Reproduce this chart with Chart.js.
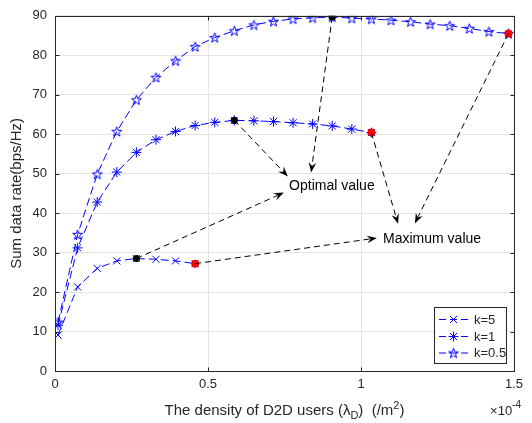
<!DOCTYPE html>
<html><head><meta charset="utf-8">
<script src="https://cdn.jsdelivr.net/npm/chart.js@4.4.0/dist/chart.umd.min.js"></script>
<style>html,body{margin:0;padding:0;background:#fff}#wrap{width:532px;height:423px;position:relative}</style>
</head><body><div id="wrap"><canvas id="c"></canvas></div>
<script>
// ---- data (density in units of 1e-4 /m^2) ----
const density = [0.010, 0.074, 0.138, 0.202, 0.266, 0.330, 0.394, 0.458, 0.522, 0.586, 0.650, 0.714,
                 0.778, 0.842, 0.906, 0.970, 1.034, 1.098, 1.162, 1.226, 1.290, 1.354, 1.418, 1.482];
const rateK5  = [9.1, 21.3, 26.0, 27.9, 28.5, 28.3, 27.9, 27.2];
const rateK1  = [11.6, 31.2, 42.8, 50.4, 55.4, 58.6, 60.7, 62.2, 63.0, 63.5, 63.4, 63.2, 62.9, 62.6, 62.1, 61.3, 60.4];
const rateK05 = [12.4, 34.6, 49.9, 60.7, 68.7, 74.4, 78.6, 82.2, 84.5, 86.2, 87.7, 88.6, 89.2, 89.5, 89.7, 89.4,
                 89.2, 88.9, 88.5, 87.9, 87.5, 86.8, 86.0, 85.5];
const seriesLabels = ['k=5', 'k=1', 'k=0.5'];
const optimalIndex = [4, 9, 14];
const xTicks = [0, 0.5, 1, 1.5];
const xTickLabels = ['0', '0.5', '1', '1.5'];
const yTicks = [0, 10, 20, 30, 40, 50, 60, 70, 80, 90];
const arrowStarts = [[0.586, 63.5], [0.906, 89.7], [0.266, 28.5], [0.458, 27.2], [1.034, 60.4], [1.482, 85.5]];
const arrowEnds   = [[0.761, 49.3], [0.837, 50.3], [0.748, 45.2], [1.052, 33.7], [1.121, 37.3], [1.176, 37.4]];
const noteTexts = ['Optimal value', 'Maximum value'];
const notePos = [[0.765, 46.8], [1.072, 33.4]];

const FONT = "'Liberation Sans', Arial, Helvetica, sans-serif";
const BLUE = '#0000ff';
const AX = '#262626';

function makePentagram(r, color) {
  const size = Math.ceil(r * 2 + 4);
  const c = document.createElement('canvas'); c.width = size; c.height = size;
  const g = c.getContext('2d');
  g.strokeStyle = color; g.lineWidth = 1;
  g.beginPath();
  const cx = size / 2, cy = size / 2 + 0.5, ri = r * 0.4;
  for (let k = 0; k < 10; k++) {
    const ang = -Math.PI / 2 + k * Math.PI / 5;
    const rr = k % 2 === 0 ? r : ri;
    const px = cx + rr * Math.cos(ang), py = cy + rr * Math.sin(ang);
    k ? g.lineTo(px, py) : g.moveTo(px, py);
  }
  g.closePath(); g.stroke();
  return c;
}
const pentagram = makePentagram(5.2, BLUE);

const series = [rateK5, rateK1, rateK05];
const markerStyles = ['crossRot', 'star', pentagram];
const pts = (arr) => arr.map((v, i) => ({ x: density[i], y: v }));

const datasets = series.map((arr, s) => ({
  label: seriesLabels[s],
  data: pts(arr),
  borderColor: BLUE,
  backgroundColor: BLUE,
  borderWidth: 1,
  borderDash: [8, 4],
  pointStyle: markerStyles[s],
  pointRadius: 5,
  pointBorderWidth: 1,
  pointBorderColor: BLUE,
  pointHoverRadius: 5,
  tension: 0,
  order: 2
}));
datasets.push({
  label: 'optimal',
  data: series.map((arr, s) => ({ x: density[optimalIndex[s]], y: arr[optimalIndex[s]] })),
  showLine: false, pointStyle: 'circle', pointRadius: 3.6, backgroundColor: '#000', borderColor: '#000', borderWidth: 0, order: 1
});
datasets.push({
  label: 'maximum',
  data: series.map((arr) => ({ x: density[arr.length - 1], y: arr[arr.length - 1] })),
  showLine: false, pointStyle: 'circle', pointRadius: 4, backgroundColor: '#ff0000', borderColor: '#ff0000', borderWidth: 0, order: 1
});

function arrowHead(ctx, x0, y0, x1, y1) {
  const ang = Math.atan2(y1 - y0, x1 - x0);
  const L = 10, W = 3.8, N = 3.5;
  ctx.save();
  ctx.translate(x1, y1); ctx.rotate(ang);
  ctx.beginPath();
  ctx.moveTo(0, 0);
  ctx.lineTo(-L, -W);
  ctx.lineTo(-L + N, 0);
  ctx.lineTo(-L, W);
  ctx.closePath();
  ctx.fillStyle = '#000'; ctx.fill();
  ctx.restore();
}

const decorPlugin = {
  id: 'decor',
  afterDatasetsDraw(chart) {
    const { ctx, chartArea: a, scales: { x, y } } = chart;
    ctx.save();
    // arrows
    for (let i = 0; i < arrowStarts.length; i++) {
      const x0 = x.getPixelForValue(arrowStarts[i][0]), y0 = y.getPixelForValue(arrowStarts[i][1]);
      const x1 = x.getPixelForValue(arrowEnds[i][0]), y1 = y.getPixelForValue(arrowEnds[i][1]);
      const d = Math.hypot(x1 - x0, y1 - y0);
      const ex = x1 - (x1 - x0) / d * 7, ey = y1 - (y1 - y0) / d * 7;
      ctx.beginPath();
      ctx.setLineDash([6, 4]);
      ctx.strokeStyle = '#000'; ctx.lineWidth = 1;
      ctx.moveTo(x0, y0); ctx.lineTo(ex, ey); ctx.stroke();
      ctx.setLineDash([]);
      arrowHead(ctx, x0, y0, x1, y1);
    }
    // notes
    ctx.font = '14px ' + FONT; ctx.fillStyle = '#000';
    ctx.textAlign = 'left'; ctx.textBaseline = 'middle';
    noteTexts.forEach((t, i) => ctx.fillText(t, x.getPixelForValue(notePos[i][0]), y.getPixelForValue(notePos[i][1])));
    ctx.restore();
  },
  afterDraw(chart) {
    const { ctx, chartArea: a, scales: { x, y } } = chart;
    ctx.save();
    // frame
    ctx.strokeStyle = AX; ctx.lineWidth = 1; ctx.setLineDash([]);
    const L = Math.round(a.left) + 0.5, R = Math.round(a.right) + 0.5, T = Math.round(a.top) + 0.5, B = Math.round(a.bottom) + 0.5;
    ctx.strokeRect(L, T, R - L, B - T);
    ctx.beginPath();
    xTicks.forEach(v => { const p = Math.round(x.getPixelForValue(v)) + 0.5; ctx.moveTo(p, B); ctx.lineTo(p, B - 4); ctx.moveTo(p, T); ctx.lineTo(p, T + 4); });
    yTicks.forEach(v => { const p = Math.round(y.getPixelForValue(v)) + 0.5; ctx.moveTo(L, p); ctx.lineTo(L + 4, p); ctx.moveTo(R, p); ctx.lineTo(R - 4, p); });
    ctx.stroke();
    // legend
    const bx = 434.5, by = 307.5, bw = 72, bh = 56;
    ctx.fillStyle = '#fff'; ctx.fillRect(bx, by, bw, bh);
    ctx.strokeStyle = AX; ctx.strokeRect(bx, by, bw, bh);
    const rows = [319.5, 336.5, 353];
    for (let s = 0; s < 3; s++) {
      const yy = rows[s];
      ctx.strokeStyle = BLUE; ctx.lineWidth = 1; ctx.setLineDash([7, 4]);
      ctx.beginPath(); ctx.moveTo(439, yy); ctx.lineTo(471, yy); ctx.stroke();
      ctx.setLineDash([]);
      Chart.helpers.drawPoint(ctx, { pointStyle: markerStyles[s], radius: 5, borderWidth: 1 }, 453.5, yy);
      ctx.font = '13px ' + FONT; ctx.fillStyle = AX; ctx.textAlign = 'left'; ctx.textBaseline = 'middle';
      ctx.fillText(seriesLabels[s], 474, yy + 0.5);
    }
    // y title
    ctx.save();
    ctx.translate(17, (a.top + a.bottom) / 2); ctx.rotate(-Math.PI / 2);
    ctx.font = '15px ' + FONT; ctx.fillStyle = AX; ctx.textAlign = 'center'; ctx.textBaseline = 'middle';
    ctx.fillText('Sum data rate(bps/Hz)', 0, 0);
    ctx.restore();
    // x title with sub/superscripts
    const parts = [
      { t: 'The density of D2D users (\u03bb', s: 15, dy: 0 },
      { t: 'D', s: 11, dy: 4 },
      { t: ')  (/m', s: 15, dy: 0 },
      { t: '2', s: 11, dy: -6 },
      { t: ')', s: 15, dy: 0 }
    ];
    let tw = 0;
    parts.forEach(p => { ctx.font = p.s + 'px ' + FONT; p.w = ctx.measureText(p.t).width; tw += p.w; });
    let cx = (a.left + a.right) / 2 - tw / 2;
    const base = 415;
    ctx.fillStyle = AX; ctx.textAlign = 'left'; ctx.textBaseline = 'alphabetic';
    parts.forEach(p => { ctx.font = p.s + 'px ' + FONT; ctx.fillText(p.t, cx, base + p.dy); cx += p.w; });
    // x10^-4
    ctx.font = '13px ' + FONT;
    const m1 = ctx.measureText('\u00d710').width;
    ctx.font = '10px ' + FONT;
    const m2 = ctx.measureText('-4').width;
    const sx = 521 - m1 - m2;
    ctx.font = '13px ' + FONT; ctx.fillText('\u00d710', sx, 415);
    ctx.font = '10px ' + FONT; ctx.fillText('-4', sx + m1, 408);
    ctx.restore();
  }
};

new Chart(document.getElementById('c'), {
  type: 'line',
  data: { datasets },
  options: {
    responsive: true, maintainAspectRatio: false, animation: false,
    layout: { padding: { top: 15, right: 18, left: 0, bottom: 0 } },
    plugins: { legend: { display: false }, tooltip: { enabled: false } },
    scales: {
      x: {
        type: 'linear', min: 0, max: 1.5,
        afterBuildTicks: s => { s.ticks = xTicks.map(v => ({ value: v })); },
        afterFit: s => { s.height = 52; },
        ticks: { callback: (v) => xTickLabels[xTicks.indexOf(v)] ?? '', color: AX, font: { family: FONT, size: 13 }, padding: 6, maxRotation: 0 },
        grid: { color: '#e3e3e3', drawTicks: false },
        border: { display: false }
      },
      y: {
        min: 0, max: 90,
        afterBuildTicks: s => { s.ticks = yTicks.map(v => ({ value: v })); },
        afterFit: s => { s.width = 55; },
        ticks: { color: AX, font: { family: FONT, size: 13 }, padding: 8 },
        grid: { color: '#e3e3e3', drawTicks: false },
        border: { display: false }
      }
    }
  },
  plugins: [decorPlugin]
});
</script></body></html>
